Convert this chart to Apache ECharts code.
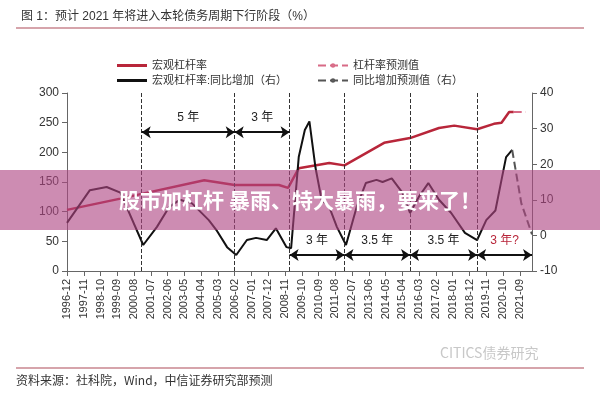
<!DOCTYPE html>
<html><head><meta charset="utf-8">
<script src="https://cdn.jsdelivr.net/npm/echarts@6/dist/echarts.min.js"></script>
<style>html,body{margin:0;padding:0;background:#fff}#chart{width:600px;height:400px}</style>
</head><body><div id="chart"></div>
<script>
// 宏观杠杆率 (左轴)
const leverage = [
	['1996-12',103],['1999-11',122],['2001-01',130],['2004-06',153],['2006-02',145],
	['2008-07',145],['2009-01',140],['2009-08',173],['2011-04',182],['2012-02',178],
	['2014-04',216],['2015-09',224],['2017-04',241],['2018-02',245],['2019-05',239],
	['2020-04',248],['2020-09',250],['2021-02',268],['2021-05',268]
];
const leverageFc = [['2021-05',268],['2022-01',268]];
// 同比增加 (右轴)
const yoy = [
	['1996-12',3.5],['1998-03',12.7],['1999-02',13.6],['1999-11',12],['2001-02',-2.7],
	['2001-11',2.4],['2002-07',8],['2003-02',10],['2003-10',9],['2004-09',4.3],
	['2005-02',1.5],['2005-09',-3.3],['2006-03',-5.5],['2006-10',-1.3],['2007-04',-0.7],
	['2007-11',-1.3],['2008-05',2],['2008-12',-3.3],['2009-03',-3.6],['2009-08',22],
	['2009-12',29.6],['2010-03',32],['2010-07',19],['2010-11',10],['2011-04',8],
	['2011-09',2.4],['2012-03',-2.7],['2012-10',8],['2013-04',14.7],['2013-11',15.6],
	['2014-03',15],['2014-09',16],['2015-04',12],['2015-09',6.3],['2016-03',11],
	['2016-09',14.7],['2017-04',10],['2017-12',6.3],['2018-09',0.7],['2019-05',-1.3],
	['2019-11',4.3],['2020-05',7],['2020-09',15.6],['2020-12',22],['2021-04',24]
];
const yoyFc = [['2021-04',24],['2021-10',9],['2022-05',0.3]];
const cycleLines = ['2001-01','2006-02','2009-02','2012-02','2015-09','2019-05'];
const upperSpans = [['2001-01','2006-02','5 年'],['2006-02','2009-02','3 年']];
const lowerSpans = [['2009-02','2012-02','3 年'],['2012-02','2015-09','3.5 年'],['2015-09','2019-05','3.5 年'],['2019-05','2022-05','3 年?']];

// 月度类目 1996-12 ~ 2022-05
let months = [];
for(let y=1996;y<=2022;y++){
	for(let m=1;m<=12;m++){
		if(y===1996 && m<12) continue;
		if(y===2022 && m>5) break;
		months.push(y+'-'+(m<10?'0'+m:m));
	}
}

function spanLines(spans, yv){
	return spans.map((s)=>[
		{coord:[s[0],yv], name:s[2]},
		{coord:[s[1],yv]}
	]);
}

const chart = echarts.init(document.getElementById('chart'));
chart.setOption({
	animation:false,
	textStyle:{fontFamily:'Arial, "Noto Sans CJK SC"'},
	title:{text:'图 1：预计 2021 年将进入本轮债务周期下行阶段（%）',left:16,top:6,
		textStyle:{fontSize:12,fontWeight:'normal',color:'#333'}},
	legend:[{
		orient:'vertical',left:112,top:55,itemWidth:30,itemHeight:3,itemGap:4,
		icon:'rect',textStyle:{fontSize:11,color:'#333'},
		data:['宏观杠杆率','宏观杠杆率:同比增加（右）']
	},{
		orient:'vertical',left:312,top:55,itemWidth:30,itemHeight:3,itemGap:4,
		textStyle:{fontSize:11,color:'#333'},
		data:['杠杆率预测值','同比增加预测值（右）']
	}],
	grid:{left:67,right:68,top:93,bottom:129},
	xAxis:{
		type:'category',data:months,boundaryGap:false,
		axisLine:{lineStyle:{color:'#666'}},
		axisTick:{interval:10,lineStyle:{color:'#666'}},
		axisLabel:{interval:10,rotate:90,fontSize:11,color:'#333'}
	},
	yAxis:[{
		type:'value',min:0,max:300,interval:50,
		axisLine:{show:true,lineStyle:{color:'#666'}},axisTick:{show:true},
		axisLabel:{fontSize:12,color:'#333'},splitLine:{show:false}
	},{
		type:'value',min:-10,max:40,interval:10,
		axisLine:{show:true,lineStyle:{color:'#666'}},axisTick:{show:true},
		axisLabel:{fontSize:12,color:'#333'},splitLine:{show:false}
	}],
	series:[{
		name:'宏观杠杆率',type:'line',data:leverage,showSymbol:false,
		lineStyle:{color:'#b8263a',width:2.5},itemStyle:{color:'#b8263a'},z:3,
		markLine:{
			silent:true,symbol:['none','none'],label:{show:false},
			lineStyle:{color:'#333',type:'dashed',width:1},
			data:cycleLines.map((d)=>({xAxis:d}))
		}
	},{
		name:'杠杆率预测值',type:'line',data:leverageFc,showSymbol:false,
		lineStyle:{color:'#d86a86',width:2,type:'dashed'},itemStyle:{color:'#d86a86'}
	},{
		name:'宏观杠杆率:同比增加（右）',type:'line',yAxisIndex:1,data:yoy,showSymbol:false,
		lineStyle:{color:'#111',width:2},itemStyle:{color:'#111'},
		markLine:{
			silent:true,symbol:['arrow','arrow'],symbolSize:9,
			lineStyle:{color:'#111',type:'solid',width:2},
			label:{show:true,position:'insideMiddleTop',formatter:'{b}',fontSize:12,distance:8,color:'#222'},
			data:spanLines(upperSpans,29)
		}
	},{
		name:'同比增加预测值（右）',type:'line',yAxisIndex:1,data:yoyFc,showSymbol:false,
		lineStyle:{color:'#555',width:2,type:'dashed'},itemStyle:{color:'#555'},
		markLine:{
			silent:true,symbol:['arrow','arrow'],symbolSize:9,
			lineStyle:{color:'#111',type:'solid',width:2},
			label:{show:true,position:'insideMiddleTop',formatter:'{b}',fontSize:12,distance:8,color:'#222'},
			data:spanLines(lowerSpans,-5.5).map((p,i)=>{
				if(i===3){p[0].label={color:'#b8263a'};}
				return p;
			})
		}
	}],
	graphic:[
		{type:'line',shape:{x1:16,y1:28,x2:584,y2:28},style:{stroke:'#c9868f',lineWidth:1.5}},
		{type:'line',shape:{x1:16,y1:368,x2:584,y2:368},style:{stroke:'#c9868f',lineWidth:1.5}},
		{type:'text',left:16,top:374,style:{text:'资料来源：社科院，Wind，中信证券研究部预测',fontSize:12,fill:'#333',fontFamily:'"Noto Sans CJK SC"'}},
		{type:'text',left:440,top:346,style:{text:'CITICS债券研究',fontSize:14,fill:'#c8c8c8',fontFamily:'"Noto Sans CJK SC"'}},
		{type:'rect',shape:{x:0,y:170,width:600,height:60},style:{fill:'rgba(175,70,130,0.62)'},z:100},
		{type:'text',x:300,y:200,style:{text:'股市加杠杆 暴雨、特大暴雨，要来了！',fontSize:21,fontWeight:'bold',
			fill:'#fff',align:'center',verticalAlign:'middle',fontFamily:'"Noto Sans CJK SC"'},z:101}
	]
});
</script></body></html>
